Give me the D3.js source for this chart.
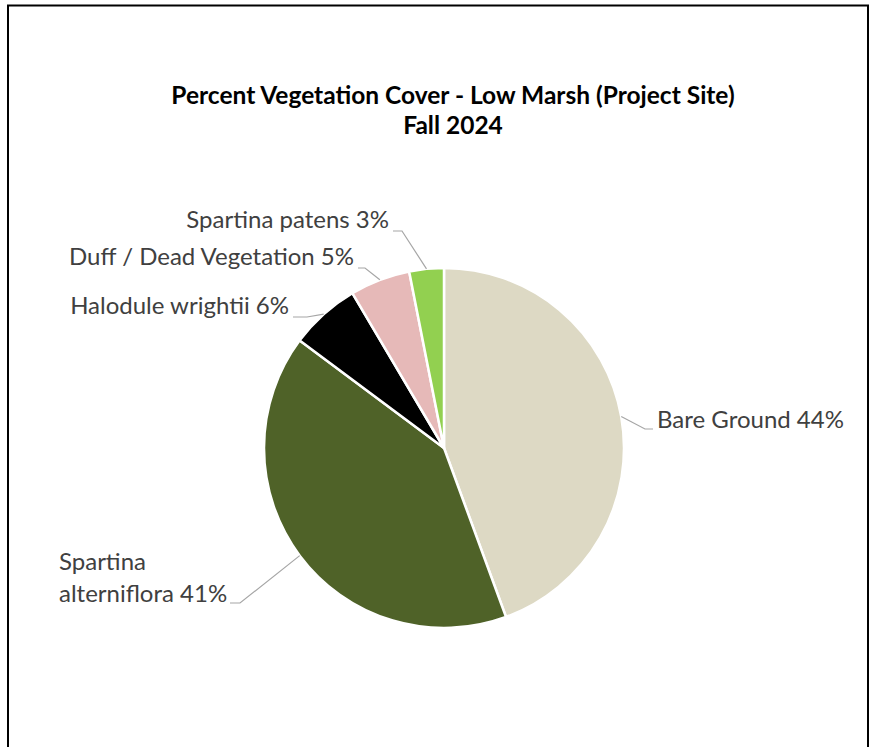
<!DOCTYPE html>
<html>
<head>
<meta charset="utf-8">
<script src="https://cdn.jsdelivr.net/npm/d3@7"></script>
<style>
  body { margin: 0; background: #fff; }
  svg { display: block; }
</style>
</head>
<body>
<svg id="chart"></svg>
<script>
// Data
const categories = ["Bare Ground", "Spartina alterniflora", "Halodule wrightii", "Duff / Dead Vegetation", "Spartina patens"];
const values = [44.4, 40.8, 6.3, 5.4, 3.1];
const colors = ["#ddd9c4", "#4f6228", "#000000", "#e6b9b8", "#92d050"];
// label text (wrapped where the chart wraps)
const labelLines = [["Bare Ground 44%"], ["Spartina", "alterniflora 41%"], ["Halodule wrightii 6%"], ["Duff / Dead Vegetation 5%"], ["Spartina patens 3%"]];
// leader line end next to each label: x, y, side, elbow length
const labelAnchors = [[653, 429, "right", 8], [230, 603, "left", 10], [293, 317, "left", 14], [358, 268, "left", 7], [393, 231, "left", 9]];

const width = 871, height = 747;
const cx = 444, cy = 448, radius = 180;
const font = "Lato, 'Open Sans', sans-serif";

const svg = d3.select("#chart").attr("width", width).attr("height", height);

// Frame (no bottom edge in the original)
svg.append("path")
   .attr("d", `M8,${height} V5.5 H868 V${height}`)
   .attr("fill", "none")
   .attr("stroke", "#000")
   .attr("stroke-width", 2);

// Title
const title = svg.append("text")
   .attr("text-anchor", "middle")
   .style("font-family", font)
   .style("font-size", "24.5px")
   .style("font-weight", "bold")
   .attr("fill", "#000");
title.append("tspan").attr("x", 453).attr("y", 104).text("Percent Vegetation Cover - Low Marsh (Project Site)");
title.append("tspan").attr("x", 453).attr("y", 134).text("Fall 2024");

// Pie
const data = categories.map((c, i) => ({ name: c, value: values[i], color: colors[i], lines: labelLines[i], anchor: labelAnchors[i] }));

const pie = d3.pie().sort(null).value(d => d.value);
const arc = d3.arc().innerRadius(0).outerRadius(radius);
const arcs = pie(data);

const g = svg.append("g").attr("transform", `translate(${cx},${cy})`);

g.selectAll("path.slice")
 .data(arcs)
 .join("path")
 .attr("class", "slice")
 .attr("d", arc)
 .attr("fill", d => d.data.color)
 .attr("stroke", "#fff")
 .attr("stroke-width", 2.5)
 .attr("stroke-linejoin", "round");

// Leader lines + labels
arcs.forEach(a => {
    const mid = (a.startAngle + a.endAngle) / 2;
    const px = cx + radius * Math.sin(mid);
    const py = cy - radius * Math.cos(mid);
    const [ax, ay, side, elbow] = a.data.anchor;
    const elbowX = side === "right" ? ax - elbow : ax + elbow;

    svg.append("polyline")
       .attr("points", `${px},${py} ${elbowX},${ay} ${ax},${ay}`)
       .attr("fill", "none")
       .attr("stroke", "#a6a6a6")
       .attr("stroke-width", 1.2);

    const lines = a.data.lines;
    const lineH = 32;
    const t = svg.append("text")
       .style("font-family", font)
       .style("font-size", "24px")
       .attr("fill", "#404040");

    if (lines.length === 1) {
        t.attr("text-anchor", side === "right" ? "start" : "end")
         .append("tspan")
         .attr("x", side === "right" ? ax + 4 : ax - 4)
         .attr("y", side === "right" ? ay - 1 : ay - 3)
         .text(lines[0]);
    } else {
        // wrapped label: left aligned block, last line next to the leader
        t.attr("text-anchor", "start");
        lines.forEach((ln, k) => {
            t.append("tspan")
             .attr("x", 59)
             .attr("y", ay - 1 - (lines.length - 1 - k) * lineH)
             .text(ln);
        });
    }
});
</script>
</body>
</html>
